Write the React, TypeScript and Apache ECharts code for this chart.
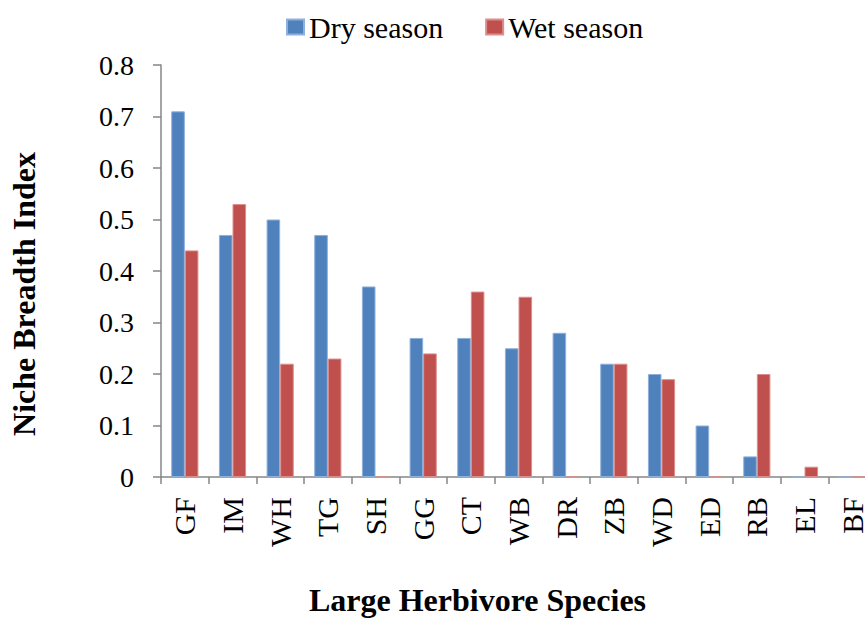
import React, { useEffect, useRef } from "react";
import * as echarts from "echarts";

const categories = ["GF", "IM", "WH", "TG", "SH", "GG", "CT", "WB", "DR", "ZB", "WD", "ED", "RB", "EL", "BF"];
const drySeason = [0.71, 0.47, 0.5, 0.47, 0.37, 0.27, 0.27, 0.25, 0.28, 0.22, 0.2, 0.1, 0.04, 0, 0];
const wetSeason = [0.44, 0.53, 0.22, 0.23, 0, 0.24, 0.36, 0.35, 0, 0.22, 0.19, 0, 0.2, 0.02, 0];
const yTicks = [0, 0.1, 0.2, 0.3, 0.4, 0.5, 0.6, 0.7, 0.8];

const FONT = "Liberation Serif";

export default function App() {
  const ref = useRef<HTMLDivElement>(null);
  useEffect(() => {
    if (!ref.current) return;
    const chart = echarts.init(ref.current, null, { renderer: "svg" });
    chart.setOption({
      animation: false,
      backgroundColor: "#ffffff",
      legend: {
        top: 7,
        left: 281,
        itemWidth: 17,
        itemHeight: 15,
        itemGap: 42,
        textStyle: { fontFamily: FONT, fontSize: 30, color: "#000" },
        data: [
          { name: "Dry season", icon: "rect" },
          { name: "Wet season", icon: "rect" },
        ],
      },
      grid: {
        left: 161,
        top: 65,
        bottom: 143,
        right: -11,
        containLabel: false,
        outerBoundsMode: "none",
      },
      xAxis: {
        type: "category",
        data: categories,
        axisLine: { lineStyle: { color: "#868686", width: 1.5 } },
        axisTick: { show: true, length: 7, lineStyle: { color: "#868686", width: 1.5 } },
        axisLabel: {
          rotate: 90,
          margin: 20,
          fontFamily: FONT,
          fontSize: 30,
          color: "#000",
          interval: 0,
        },
        name: "Large Herbivore Species",
        nameLocation: "middle",
        nameGap: 107,
        nameTextStyle: {
          fontFamily: FONT,
          fontSize: 32,
          fontWeight: "bold",
          color: "#000",
          padding: [0, 82, 0, 0],
        },
      },
      yAxis: {
        type: "value",
        min: 0,
        max: 0.8,
        interval: 0.1,
        splitLine: { show: false },
        axisLine: { show: true, lineStyle: { color: "#868686", width: 1.5 } },
        axisTick: { show: true, length: 8, lineStyle: { color: "#868686", width: 1.5 } },
        axisLabel: {
          margin: 27,
          fontFamily: FONT,
          fontSize: 28,
          color: "#000",
          formatter: (v: number) => {
            const t = yTicks.find((x) => Math.abs(x - v) < 1e-9);
            return t === undefined ? "" : String(t);
          },
        },
        name: "Niche Breadth Index",
        nameLocation: "middle",
        nameGap: 121,
        nameTextStyle: {
          fontFamily: FONT,
          fontSize: 32,
          fontWeight: "bold",
          color: "#000",
          padding: [0, 46, 0, 0],
        },
      },
      series: [
        {
          name: "Dry season",
          type: "bar",
          data: drySeason,
          barGap: "0%",
          barCategoryGap: "43%",
          itemStyle: { color: "#4F81BD", borderColor: "#8fb0dc", borderWidth: 1 },
        },
        {
          name: "Wet season",
          type: "bar",
          data: wetSeason,
          barGap: "0%",
          barCategoryGap: "43%",
          itemStyle: { color: "#C0504D", borderColor: "#dc8e8c", borderWidth: 1 },
        },
      ],
    });
    return () => chart.dispose();
  }, []);
  return (
    <div
      ref={ref}
      style={{ position: "fixed", left: 0, top: 0, width: 865, height: 620 }}
    />
  );
}
